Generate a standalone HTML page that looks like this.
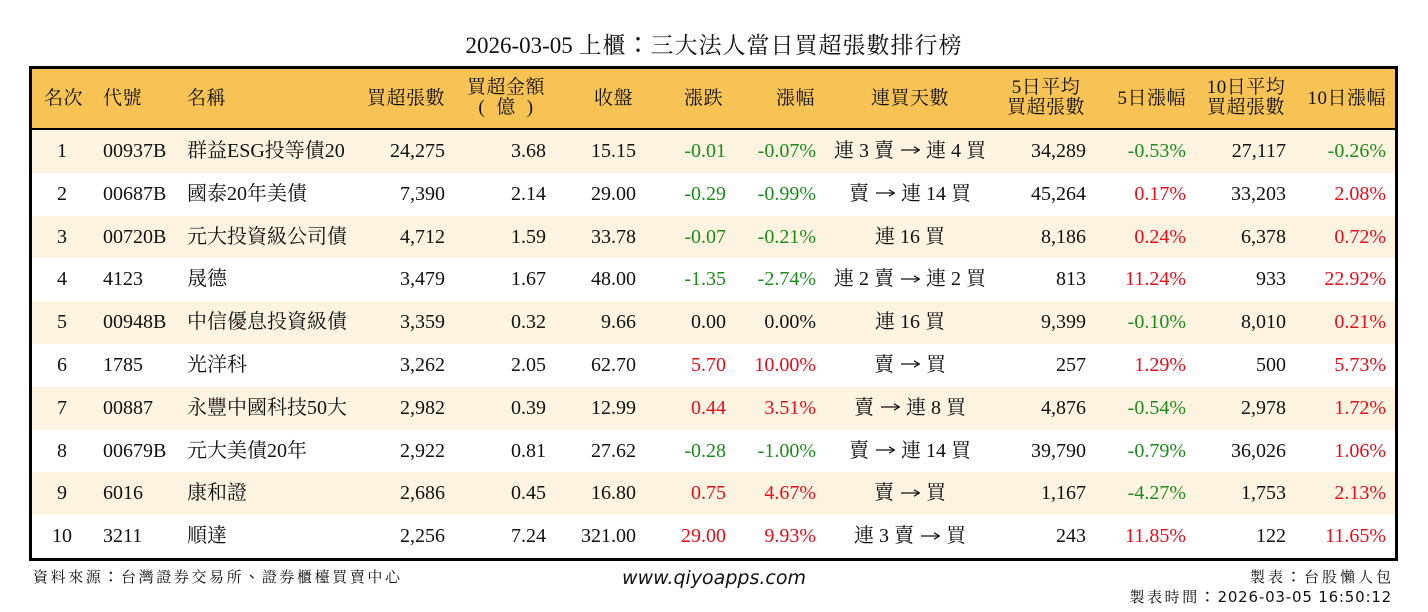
<!DOCTYPE html>
<html>
<head>
<meta charset="utf-8">
<style>
  html, body { margin:0; padding:0; background:#ffffff; }
  body { width:1428px; height:612px; position:relative; overflow:hidden;
         font-family:"Liberation Serif","Noto Serif CJK SC","Noto Serif CJK JP",serif; color:#111; }
  .tc { font-family:"Noto Sans CJK TC","Noto Sans CJK JP",sans-serif; }
  .arr { display:inline-block; width:20px; height:12px; position:relative; top:-2px; vertical-align:middle; margin:0 1px; }
  .arr svg { position:absolute; left:0; top:0; }
  .arr b { position:absolute; left:0; top:0; font-size:1px; color:transparent; font-weight:normal; }
  .title { position:absolute; left:0; width:1428px; top:28px; height:30px; line-height:30px;
           text-align:center; font-size:23px; }
  .title .cj { letter-spacing:1px; }
  .frame { position:absolute; left:29px; top:66px; width:1369px; height:495px;
           border:3px solid #000; box-sizing:border-box; }
  .hdr { position:absolute; left:32px; top:69px; width:1363px; height:59px; background:#F8C355;
         border-bottom:2px solid #000; font-size:19px; letter-spacing:0.5px; }
  .hdr div { position:absolute; white-space:nowrap; }
  .h1 { top:0; height:59px; line-height:59px; }
  .h2 { top:9px; line-height:19.5px; text-align:center; width:84px; }
  .row { position:absolute; left:32px; width:1363px; height:42.8px; font-size:20px; }
  .row div { position:absolute; top:0; line-height:42.8px; white-space:nowrap; }
  .odd { background:#FDF3E1; }
  .even { background:#ffffff; }
  .c0 { left:0; width:60px; text-align:center; }
  .c1 { left:71px; }
  .c2 { left:155px; }
  .c3 { right:950px; }
  .c4 { right:849px; }
  .c5 { right:759px; }
  .c6 { right:669px; }
  .c7 { right:579px; }
  .c8 { left:728px; width:300px; text-align:center; }
  .c9 { right:309px; }
  .c10 { right:209px; }
  .c11 { right:109px; }
  .c12 { right:9px; }
  .g { color:#1d8c1d; }
  .r { color:#e30d1b; }
  .foot { position:absolute; font-size:15px; white-space:nowrap; letter-spacing:2.6px; }
  .web { position:absolute; left:0; width:1428px; top:567px; text-align:center;
         font-family:"DejaVu Sans",sans-serif; font-style:italic; font-size:19px; color:#111; }
  .lat { font-family:"DejaVu Sans",sans-serif; letter-spacing:0.8px; }
</style>
</head>
<body>
<svg width="0" height="0" style="position:absolute">
  <defs>
    <g id="ar"><line x1="1" y1="6" x2="19" y2="6" stroke="#111" stroke-width="1.2"/><path d="M14,2.8 L19.5,6 L14,9.2" fill="none" stroke="#111" stroke-width="1.2"/></g>
  </defs>
</svg>
<div class="title">2026-03-05 <span class="cj">上櫃<span class="tc">：</span>三大法人當日買超張數排行榜</span></div>

<div class="frame"></div>
<div class="hdr">
  <div class="h1" style="left:12px;">名次</div>
  <div class="h1" style="left:71px;">代號</div>
  <div class="h1" style="left:155px;">名稱</div>
  <div class="h1" style="right:950px;">買超張數</div>
  <div class="h2" style="right:847px;">買超金額<br><span style="margin-right:11px">(</span>億<span style="margin-left:11px">)</span></div>
  <div class="h1" style="right:762px;">收盤</div>
  <div class="h1" style="right:672px;">漲跌</div>
  <div class="h1" style="right:580px;">漲幅</div>
  <div class="h1" style="left:778px; width:200px; text-align:center;">連買天數</div>
  <div class="h2" style="right:307px;">5日平均<br>買超張數</div>
  <div class="h1" style="right:209px;">5日漲幅</div>
  <div class="h2" style="right:107px;">10日平均<br>買超張數</div>
  <div class="h1" style="right:9px;">10日漲幅</div>
</div>

<div class="row odd" style="top:130px;">
  <div class="c0">1</div><div class="c1">00937B</div><div class="c2">群益ESG投等債20</div>
  <div class="c3">24,275</div><div class="c4">3.68</div><div class="c5">15.15</div>
  <div class="c6 g">-0.01</div><div class="c7 g">-0.07%</div><div class="c8">連 3 賣 <span class="arr"><b>→</b><svg width="20" height="12"><use href="#ar"/></svg></span> 連 4 買</div>
  <div class="c9">34,289</div><div class="c10 g">-0.53%</div><div class="c11">27,117</div><div class="c12 g">-0.26%</div>
</div>
<div class="row even" style="top:172.8px;">
  <div class="c0">2</div><div class="c1">00687B</div><div class="c2">國泰20年美債</div>
  <div class="c3">7,390</div><div class="c4">2.14</div><div class="c5">29.00</div>
  <div class="c6 g">-0.29</div><div class="c7 g">-0.99%</div><div class="c8">賣 <span class="arr"><b>→</b><svg width="20" height="12"><use href="#ar"/></svg></span> 連 14 買</div>
  <div class="c9">45,264</div><div class="c10 r">0.17%</div><div class="c11">33,203</div><div class="c12 r">2.08%</div>
</div>
<div class="row odd" style="top:215.6px;">
  <div class="c0">3</div><div class="c1">00720B</div><div class="c2">元大投資級公司債</div>
  <div class="c3">4,712</div><div class="c4">1.59</div><div class="c5">33.78</div>
  <div class="c6 g">-0.07</div><div class="c7 g">-0.21%</div><div class="c8">連 16 買</div>
  <div class="c9">8,186</div><div class="c10 r">0.24%</div><div class="c11">6,378</div><div class="c12 r">0.72%</div>
</div>
<div class="row even" style="top:258.4px;">
  <div class="c0">4</div><div class="c1">4123</div><div class="c2">晟德</div>
  <div class="c3">3,479</div><div class="c4">1.67</div><div class="c5">48.00</div>
  <div class="c6 g">-1.35</div><div class="c7 g">-2.74%</div><div class="c8">連 2 賣 <span class="arr"><b>→</b><svg width="20" height="12"><use href="#ar"/></svg></span> 連 2 買</div>
  <div class="c9">813</div><div class="c10 r">11.24%</div><div class="c11">933</div><div class="c12 r">22.92%</div>
</div>
<div class="row odd" style="top:301.2px;">
  <div class="c0">5</div><div class="c1">00948B</div><div class="c2">中信優息投資級債</div>
  <div class="c3">3,359</div><div class="c4">0.32</div><div class="c5">9.66</div>
  <div class="c6">0.00</div><div class="c7">0.00%</div><div class="c8">連 16 買</div>
  <div class="c9">9,399</div><div class="c10 g">-0.10%</div><div class="c11">8,010</div><div class="c12 r">0.21%</div>
</div>
<div class="row even" style="top:344px;">
  <div class="c0">6</div><div class="c1">1785</div><div class="c2">光洋科</div>
  <div class="c3">3,262</div><div class="c4">2.05</div><div class="c5">62.70</div>
  <div class="c6 r">5.70</div><div class="c7 r">10.00%</div><div class="c8">賣 <span class="arr"><b>→</b><svg width="20" height="12"><use href="#ar"/></svg></span> 買</div>
  <div class="c9">257</div><div class="c10 r">1.29%</div><div class="c11">500</div><div class="c12 r">5.73%</div>
</div>
<div class="row odd" style="top:386.8px;">
  <div class="c0">7</div><div class="c1">00887</div><div class="c2">永豐中國科技50大</div>
  <div class="c3">2,982</div><div class="c4">0.39</div><div class="c5">12.99</div>
  <div class="c6 r">0.44</div><div class="c7 r">3.51%</div><div class="c8">賣 <span class="arr"><b>→</b><svg width="20" height="12"><use href="#ar"/></svg></span> 連 8 買</div>
  <div class="c9">4,876</div><div class="c10 g">-0.54%</div><div class="c11">2,978</div><div class="c12 r">1.72%</div>
</div>
<div class="row even" style="top:429.6px;">
  <div class="c0">8</div><div class="c1">00679B</div><div class="c2">元大美債20年</div>
  <div class="c3">2,922</div><div class="c4">0.81</div><div class="c5">27.62</div>
  <div class="c6 g">-0.28</div><div class="c7 g">-1.00%</div><div class="c8">賣 <span class="arr"><b>→</b><svg width="20" height="12"><use href="#ar"/></svg></span> 連 14 買</div>
  <div class="c9">39,790</div><div class="c10 g">-0.79%</div><div class="c11">36,026</div><div class="c12 r">1.06%</div>
</div>
<div class="row odd" style="top:472.4px;">
  <div class="c0">9</div><div class="c1">6016</div><div class="c2">康和證</div>
  <div class="c3">2,686</div><div class="c4">0.45</div><div class="c5">16.80</div>
  <div class="c6 r">0.75</div><div class="c7 r">4.67%</div><div class="c8">賣 <span class="arr"><b>→</b><svg width="20" height="12"><use href="#ar"/></svg></span> 買</div>
  <div class="c9">1,167</div><div class="c10 g">-4.27%</div><div class="c11">1,753</div><div class="c12 r">2.13%</div>
</div>
<div class="row even" style="top:515.2px;">
  <div class="c0">10</div><div class="c1">3211</div><div class="c2">順達</div>
  <div class="c3">2,256</div><div class="c4">7.24</div><div class="c5">321.00</div>
  <div class="c6 r">29.00</div><div class="c7 r">9.93%</div><div class="c8">連 3 賣 <span class="arr"><b>→</b><svg width="20" height="12"><use href="#ar"/></svg></span> 買</div>
  <div class="c9">243</div><div class="c10 r">11.85%</div><div class="c11">122</div><div class="c12 r">11.65%</div>
</div>

<div class="foot" style="left:33px; top:566px; line-height:22px;">資料來源<span class="tc">：</span>台灣證券交易所<span class="tc">、</span>證券櫃檯買賣中心</div>
<div class="web">www.qiyoapps.com</div>
<div class="foot" style="right:34px; top:566px; line-height:22px; letter-spacing:3px;">製表<span class="tc">：</span>台股懶人包</div>
<div class="foot" style="right:36px; top:586px; line-height:22px;">製表時間<span class="tc">：</span><span class="lat">2026-03-05 16:50:12</span></div>
</body>
</html>
